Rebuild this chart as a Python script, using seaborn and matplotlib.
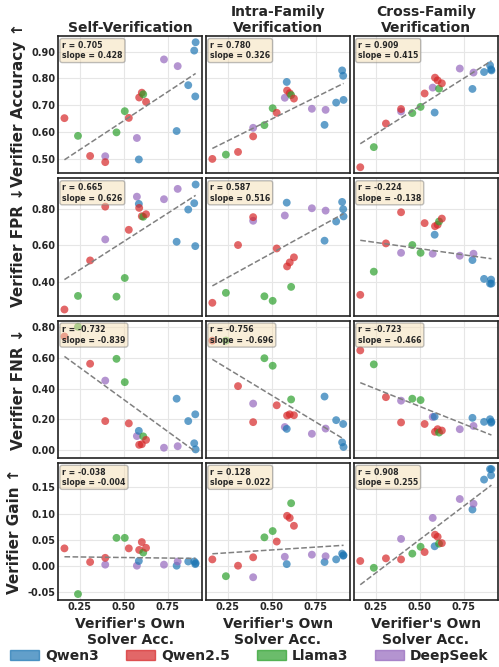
import numpy as np
import pandas as pd
import matplotlib
matplotlib.use("Agg")
import matplotlib.pyplot as plt
import matplotlib.patches as mpatches
import seaborn as sns

# ---------------- data ----------------
families = ["Qwen2.5", "Llama3", "Qwen2.5", "DeepSeek", "Qwen2.5", "Llama3", "Llama3",
            "Qwen2.5", "DeepSeek", "Qwen3", "Qwen2.5", "Qwen2.5", "Llama3", "Qwen2.5",
            "DeepSeek", "Qwen3", "DeepSeek", "Qwen3", "Qwen3", "Qwen3", "Qwen3"]
solver_acc = [0.162, 0.239, 0.308, 0.394, 0.394, 0.458, 0.505, 0.528, 0.574, 0.585, 0.587,
              0.602, 0.610, 0.626, 0.728, 0.800, 0.806, 0.866, 0.900, 0.906, 0.908]

self_acc = [0.652, 0.586, 0.511, 0.510, 0.488, 0.599, 0.678, 0.653, 0.578, 0.498, 0.729,
            0.747, 0.741, 0.713, 0.871, 0.604, 0.846, 0.775, 0.904, 0.733, 0.935]
intra_acc = [0.500, 0.516, 0.526, 0.616, 0.584, 0.626, 0.689, 0.672, 0.728, 0.787, 0.755,
             0.745, 0.738, 0.725, 0.687, 0.627, 0.683, 0.710, 0.830, 0.810, 0.720]
cross_acc = [0.469, 0.544, 0.632, 0.677, 0.686, 0.671, 0.694, 0.744, 0.766, 0.673, 0.803,
             0.793, 0.762, 0.782, 0.837, 0.761, 0.822, 0.824, 0.849, 0.834, 0.830]

self_fpr = [0.246, 0.321, 0.517, 0.633, 0.814, 0.317, 0.420, 0.686, 0.869, 0.829, 0.807,
            0.761, 0.758, 0.772, 0.855, 0.620, 0.912, 0.798, 0.833, 0.596, 0.936]
intra_fpr = [0.283, 0.338, 0.602, 0.736, 0.756, 0.319, 0.294, 0.583, 0.765, 0.836, 0.484,
             0.506, 0.371, 0.534, 0.805, 0.626, 0.792, 0.732, 0.840, 0.800, 0.760]
cross_fpr = [0.327, 0.455, 0.611, 0.559, 0.783, 0.602, 0.559, 0.723, 0.554, 0.659, 0.706,
             0.714, 0.732, 0.748, 0.543, 0.519, 0.554, 0.415, 0.389, 0.411, 0.389]

self_fnr = [0.741, 0.804, 0.563, 0.453, 0.189, 0.595, 0.443, 0.174, 0.091, 0.125, 0.034,
            0.038, 0.089, 0.066, 0.015, 0.335, 0.025, 0.189, 0.044, 0.233, 0.004]
intra_fnr = [0.714, 0.714, 0.417, 0.303, 0.182, 0.599, 0.550, 0.292, 0.150, 0.138, 0.225,
             0.233, 0.330, 0.227, 0.106, 0.349, 0.140, 0.195, 0.050, 0.170, 0.020]
cross_fnr = [0.650, 0.559, 0.345, 0.322, 0.180, 0.335, 0.326, 0.170, 0.216, 0.218, 0.119,
             0.136, 0.114, 0.127, 0.136, 0.210, 0.157, 0.184, 0.201, 0.178, 0.185]

self_gain = [0.034, -0.053, 0.008, 0.003, 0.016, 0.054, 0.054, 0.034, 0.001, 0.010, 0.031,
             0.046, 0.026, 0.035, 0.003, 0.001, 0.009, 0.009, 0.009, 0.004, 0.006]
intra_gain = [0.013, -0.019, 0.001, -0.021, 0.017, 0.055, 0.067, 0.047, 0.018, 0.004, 0.096,
              0.092, 0.120, 0.077, 0.022, 0.008, 0.019, 0.013, 0.024, 0.020, 0.021]
cross_gain = [0.010, -0.003, 0.015, 0.052, 0.013, 0.024, 0.037, 0.027, 0.092, 0.038, 0.060,
              0.056, 0.043, 0.044, 0.128, 0.108, 0.119, 0.165, 0.185, 0.173, 0.185]

r_values = [[0.705, 0.780, 0.909], [0.665, 0.587, -0.224],
            [-0.732, -0.756, -0.723], [-0.038, 0.128, 0.908]]
slope_values = [[0.428, 0.326, 0.415], [0.626, 0.516, -0.138],
                [-0.839, -0.696, -0.466], [-0.004, 0.022, 0.255]]

col_titles = ["Self-Verification", "Intra-Family\nVerification", "Cross-Family\nVerification"]
row_labels = ["Verifier Accuracy ↑", "Verifier FPR ↓", "Verifier FNR ↓", "Verifier Gain ↑"]
x_label = "Verifier's Own\nSolver Acc."
hue_order = ["Qwen3", "Qwen2.5", "Llama3", "DeepSeek"]
palette = {"Qwen3": "#1f77b4", "Qwen2.5": "#d62728", "Llama3": "#2ca02c", "DeepSeek": "#9467bd"}

grid_values = [[self_acc, intra_acc, cross_acc],
               [self_fpr, intra_fpr, cross_fpr],
               [self_fnr, intra_fnr, cross_fnr],
               [self_gain, intra_gain, cross_gain]]

# ---------------- plot ----------------
sns.set_theme(style="whitegrid")
plt.rcParams["font.family"] = ["DejaVu Sans"]
plt.rcParams["font.weight"] = "bold"

fig, axes = plt.subplots(4, 3, figsize=(4.99, 6.67), dpi=100, sharex=True, sharey="row")
fig.subplots_adjust(left=0.116, right=0.998, top=0.946, bottom=0.10, wspace=0.025, hspace=0.035)

for i in range(4):
    for j in range(3):
        ax = axes[i, j]
        df = pd.DataFrame({"x": solver_acc, "y": grid_values[i][j], "family": families})
        sns.scatterplot(data=df, x="x", y="y", hue="family", hue_order=hue_order,
                        palette=palette, s=32, alpha=0.7, linewidth=0, legend=False, ax=ax)
        sns.regplot(data=df, x="x", y="y", scatter=False, ci=None, ax=ax,
                    line_kws=dict(color="gray", ls="--", lw=1.1))
        ax.text(0.03, 0.965, f"r = {r_values[i][j]:.3f}\nslope = {slope_values[i][j]:.3f}",
                transform=ax.transAxes, fontsize=5.6, fontweight="bold", va="top", ha="left",
                bbox=dict(boxstyle="round,pad=0.3", facecolor="wheat", alpha=0.5, edgecolor="gray"),
                zorder=5)
        ax.grid(True, color="#e6e6e6", lw=0.8)
        for sp in ax.spines.values():
            sp.set_edgecolor("#222222")
            sp.set_linewidth(1.2)
        ax.set_xlabel("")
        ax.set_ylabel("")
        ax.tick_params(axis="both", labelsize=7, pad=1.5, length=0)
        if i == 0:
            ax.set_title(col_titles[j], fontsize=10, fontweight="bold", pad=3)
        if j == 0:
            ax.set_ylabel(row_labels[i], fontsize=11, fontweight="bold", labelpad=4)
            ax.yaxis.set_major_formatter(matplotlib.ticker.FormatStrFormatter("%.2f"))
        if i == 3:
            ax.set_xlabel(x_label, fontsize=10, fontweight="bold", labelpad=3)
            ax.set_xticks([0.25, 0.50, 0.75])
            ax.xaxis.set_major_formatter(matplotlib.ticker.FormatStrFormatter("%.2f"))

for ax in axes.flat:
    for lab in ax.get_xticklabels() + ax.get_yticklabels():
        lab.set_fontweight("bold")

handles = [mpatches.Patch(color=palette[h], alpha=0.7, label=h) for h in hue_order]
fig.legend(handles=handles, loc="center", ncol=4, frameon=False,
           bbox_to_anchor=(0.5, 0.0165), prop=dict(size=10, weight="bold"),
           handlelength=2.1, handleheight=0.75, columnspacing=1.9, handletextpad=0.45,
           borderpad=0.1)

fig.savefig("out.png", dpi=100)
